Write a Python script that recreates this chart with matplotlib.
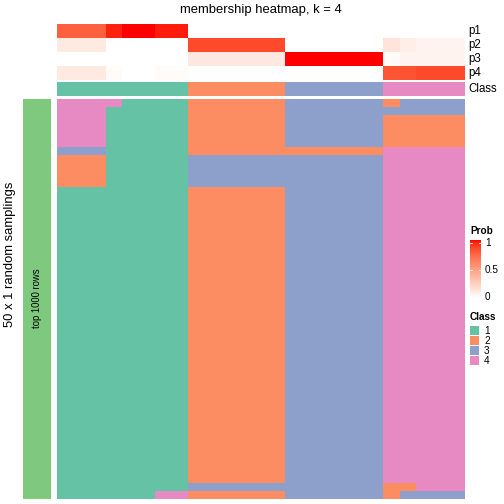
import numpy as np
import matplotlib
matplotlib.use("Agg")
import matplotlib.pyplot as plt
from matplotlib.colors import ListedColormap, LinearSegmentedColormap

plt.rcParams['font.family'] = ['Liberation Sans', 'DejaVu Sans']

# membership class of each random sampling (rows) for each sample (columns)
membership_rows = [
    "4444111122222233333323333",
    "4441111122222233333333333",
    "4441111122222233333322222",
    "4441111122222233333322222",
    "4441111122222233333322222",
    "4441111122222233333322222",
    "3331111122222222222244444",
    "2221111133333333333344444",
    "2221111133333333333344444",
    "2221111133333333333344444",
    "2221111133333333333344444",
] + ["1111111122222233333344444"] * 37 + [
    "1111111133333333333322444",
    "1111114422222233333323333",
]

# top annotation: membership probabilities and final class per sample
p1 = [0.78, 0.78, 0.78, 0.96, 1.0, 1.0, 0.97, 0.97,
      0, 0, 0, 0, 0, 0, 0, 0, 0, 0, 0, 0, 0, 0, 0, 0, 0]
p2 = [0.11, 0.11, 0.11, 0, 0, 0, 0, 0,
      0.86, 0.86, 0.86, 0.86, 0.86, 0.86, 0, 0, 0, 0, 0, 0, 0.14, 0.09, 0.06, 0.06, 0.06]
p3 = [0, 0, 0, 0, 0, 0, 0, 0,
      0.12, 0.12, 0.12, 0.12, 0.12, 0.12, 1.0, 1.0, 1.0, 1.0, 1.0, 1.0, 0.02, 0.06, 0.06, 0.06, 0.06]
p4 = [0.11, 0.11, 0.11, 0.02, 0, 0, 0.02, 0.02,
      0, 0, 0, 0, 0, 0, 0, 0, 0, 0, 0, 0, 0.82, 0.83, 0.86, 0.86, 0.86]
final_class = [1] * 8 + [2] * 6 + [3] * 6 + [4] * 5

class_labels = ["1", "2", "3", "4"]
class_colors = ["#66C2A5", "#FC8D62", "#8DA0CB", "#E78AC3"]
prob_ticks = [0, 0.5, 1]


def srgb_to_lab(rgb):
    c = np.asarray(rgb, float)
    c = np.where(c <= 0.04045, c / 12.92, ((c + 0.055) / 1.055) ** 2.4)
    m = np.array([[0.4124, 0.3576, 0.1805],
                  [0.2126, 0.7152, 0.0722],
                  [0.0193, 0.1192, 0.9505]])
    xyz = m @ c / np.array([0.95047, 1.0, 1.08883])
    f = np.where(xyz > 0.008856, np.cbrt(xyz), 7.787 * xyz + 16 / 116)
    return np.array([116 * f[1] - 16, 500 * (f[0] - f[1]), 200 * (f[1] - f[2])])


def lab_to_srgb(lab):
    fy = (lab[0] + 16) / 116
    f = np.array([fy + lab[1] / 500, fy, fy - lab[2] / 200])
    xyz = np.where(f ** 3 > 0.008856, f ** 3, (f - 16 / 116) / 7.787)
    xyz = xyz * np.array([0.95047, 1.0, 1.08883])
    m = np.array([[3.2406, -1.5372, -0.4986],
                  [-0.9689, 1.8758, 0.0415],
                  [0.0557, -0.2040, 1.0570]])
    c = m @ xyz
    c = np.where(c <= 0.0031308, 12.92 * c, 1.055 * np.clip(c, 0, None) ** (1 / 2.4) - 0.055)
    return np.clip(c, 0, 1)


lab_w = srgb_to_lab([1, 1, 1])
lab_r = srgb_to_lab([1, 0, 0])
prob_cmap = LinearSegmentedColormap.from_list(
    "prob", [lab_to_srgb(lab_w + t * (lab_r - lab_w)) for t in np.linspace(0, 1, 64)])
class_cmap = ListedColormap(class_colors)

W = H = 504
fig = plt.figure(figsize=(7, 7), dpi=72)


def px_axes(x0, y0, x1, y1):
    ax = fig.add_axes([x0 / W, 1 - y1 / H, (x1 - x0) / W, (y1 - y0) / H])
    ax.set_axis_off()
    return ax


x0, x1 = 57, 465

# probability rows
prob = np.array([p1, p2, p3, p4])
ax = px_axes(x0, 24, x1, 80)
ax.imshow(prob, cmap=prob_cmap, vmin=0, vmax=1, aspect='auto', interpolation='nearest')
for i, name in enumerate(["p1", "p2", "p3", "p4"]):
    fig.text(468 / W, 1 - (31 + 14 * i) / H, name, fontsize=11.5, va='center', ha='left')

# class row
ax = px_axes(x0, 82, x1, 96)
ax.imshow([[c - 1 for c in final_class]], cmap=class_cmap, vmin=-0.5, vmax=3.5,
          aspect='auto', interpolation='nearest')
fig.text(468 / W, 1 - 89 / H, "Class", fontsize=11.5, va='center', ha='left')

# main body
mat = np.array([[int(ch) - 1 for ch in row] for row in membership_rows])
ax = px_axes(x0, 99, x1, 499)
ax.imshow(mat, cmap=class_cmap, vmin=-0.5, vmax=3.5, aspect='auto', interpolation='nearest')

# left row-group bar
ax = px_axes(23, 99, 51, 499)
ax.add_patch(plt.Rectangle((0, 0), 1, 1, color="#7FC97F"))
ax.set_xlim(0, 1)
ax.set_ylim(0, 1)
fig.text(37 / W, 1 - 298 / H, "top 1000 rows", fontsize=9.5, rotation=90, ha='center', va='center')
fig.text(10 / W, 1 - 254 / H, "50 x 1 random samplings", fontsize=13, rotation=90,
         ha='center', va='center')

fig.text(261 / W, 1 - 10 / H, "membership heatmap, k = 4", fontsize=13, ha='center', va='center')

# Prob legend
fig.text(470 / W, 1 - 231 / H, "Prob", fontsize=10, fontweight='bold', ha='left', va='center')
ax = px_axes(470, 240, 481, 298)
ax.imshow(np.linspace(1, 0, 100)[:, None], cmap=prob_cmap, vmin=0, vmax=1,
          aspect='auto', extent=(0, 1, 0, 1))
ax.set_xlim(0, 1)
ax.set_ylim(0, 1)
for t in prob_ticks:
    yy = 243 + (1 - t) * 54
    fig.text(485 / W, 1 - yy / H, "{:g}".format(t), fontsize=10, ha='left', va='center')
    if t > 0:
        ax.plot([0, 0.2], [t * 54 / 58 + 1 / 58] * 2, color='white', lw=0.8)
        ax.plot([0.8, 1], [t * 54 / 58 + 1 / 58] * 2, color='white', lw=0.8)

# Class legend
fig.text(470 / W, 1 - 317 / H, "Class", fontsize=10, fontweight='bold', ha='left', va='center')
for i, (lab, col) in enumerate(zip(class_labels, class_colors)):
    top = 326 + 10 * i
    ax = px_axes(470, top, 479, top + 9)
    ax.add_patch(plt.Rectangle((0, 0), 1, 1, color=col))
    ax.set_xlim(0, 1)
    ax.set_ylim(0, 1)
    fig.text(484 / W, 1 - (top + 4.5) / H, lab, fontsize=10, ha='left', va='center')

fig.savefig("out.png", dpi=72)
